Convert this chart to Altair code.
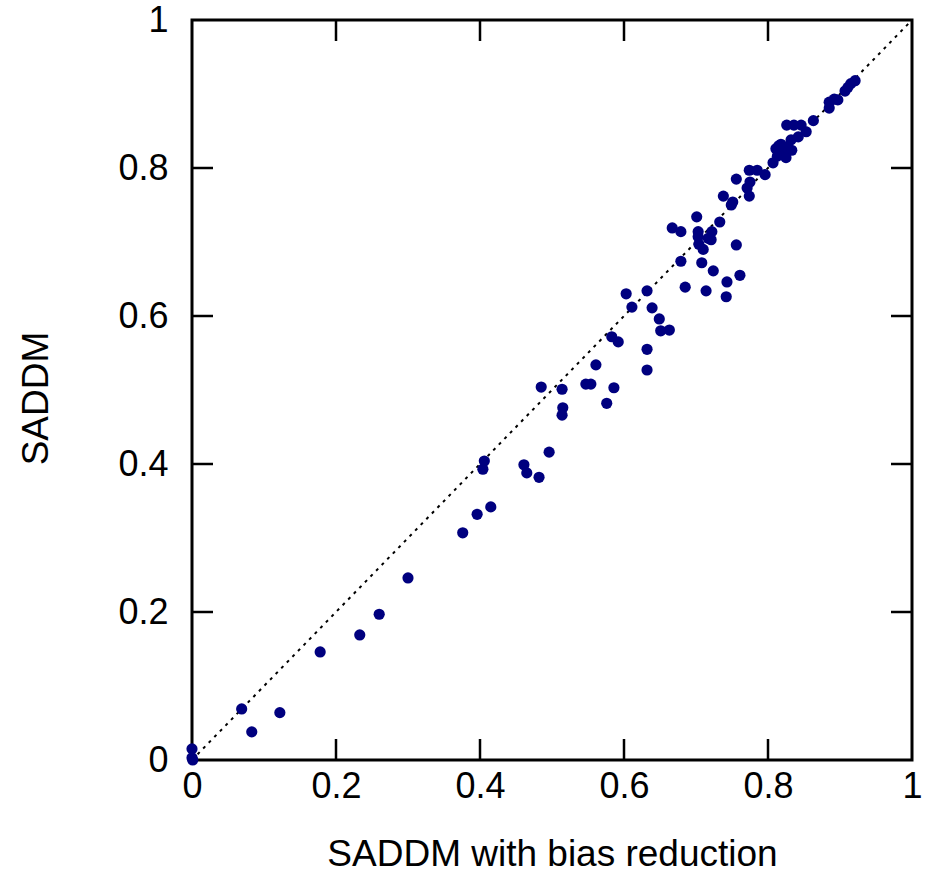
import altair as alt
import pandas as pd

# SADDM with bias reduction (x) vs SADDM (y)
x_vals = [0.000, 0.000, 0.001, 0.069, 0.083, 0.122, 0.178, 0.233, 0.260, 0.300,
          0.376, 0.396, 0.415, 0.404, 0.406, 0.461, 0.465, 0.482, 0.496, 0.485,
          0.514, 0.547, 0.554, 0.586, 0.576, 0.515, 0.514, 0.561, 0.583, 0.592,
          0.632, 0.632, 0.603, 0.632, 0.611, 0.639, 0.649, 0.651, 0.663, 0.679,
          0.708, 0.724, 0.761, 0.743, 0.685, 0.714, 0.742, 0.701, 0.733, 0.667,
          0.679, 0.703, 0.722, 0.717, 0.703, 0.721, 0.704, 0.710, 0.756, 0.738,
          0.751, 0.749, 0.756, 0.775, 0.771, 0.774, 0.774, 0.785, 0.796, 0.807,
          0.811, 0.818, 0.822, 0.813, 0.826, 0.832, 0.842, 0.853, 0.826, 0.836,
          0.846, 0.863, 0.885, 0.885, 0.892, 0.897, 0.907, 0.911, 0.915, 0.921,
          0.815, 0.833, 0.825]
y_vals = [0.015, 0.003, 0.000, 0.069, 0.038, 0.064, 0.146, 0.169, 0.197, 0.246,
          0.307, 0.332, 0.342, 0.393, 0.404, 0.399, 0.388, 0.382, 0.416, 0.504,
          0.501, 0.508, 0.508, 0.503, 0.482, 0.476, 0.466, 0.534, 0.572, 0.565,
          0.555, 0.527, 0.630, 0.634, 0.612, 0.611, 0.596, 0.580, 0.581, 0.674,
          0.672, 0.661, 0.655, 0.646, 0.639, 0.634, 0.626, 0.734, 0.727, 0.719,
          0.714, 0.714, 0.714, 0.705, 0.707, 0.703, 0.697, 0.690, 0.696, 0.762,
          0.754, 0.750, 0.785, 0.781, 0.773, 0.762, 0.797, 0.797, 0.791, 0.807,
          0.826, 0.832, 0.819, 0.816, 0.828, 0.838, 0.842, 0.849, 0.858, 0.858,
          0.858, 0.864, 0.889, 0.881, 0.893, 0.892, 0.904, 0.909, 0.914, 0.918,
          0.830, 0.824, 0.814]

tick_values = [0, 0.2, 0.4, 0.6, 0.8, 1]
inner_ticks = [0.2, 0.4, 0.6, 0.8]
diag = [0, 1]

pts = pd.DataFrame({"x": x_vals, "y": y_vals})
ticks = pd.DataFrame({"t": inner_ticks})
diag_df = pd.DataFrame({"x": diag, "y": diag})

FONT = "Liberation Sans"
W, H = 720, 740
TL = 21

xscale = alt.Scale(domain=[0, 1], nice=False, zero=False)
yscale = alt.Scale(domain=[0, 1], nice=False, zero=False)

xaxis = alt.Axis(values=tick_values, format="~g", grid=False, ticks=False, domain=False,
                 labelFontSize=36, labelFont=FONT, labelColor="black", labelPadding=9,
                 labelFlush=False,
                 title="SADDM with bias reduction", titleFontSize=37, titleFont=FONT,
                 titleFontWeight="normal", titleColor="black",
                 titleX=W / 2, titleY=105, titleBaseline="alphabetic", titleAlign="center")
yaxis = alt.Axis(values=tick_values, format="~g", grid=False, ticks=False, domain=False,
                 labelFontSize=36, labelFont=FONT, labelColor="black", labelPadding=24,
                 labelFlush=False, labelBaseline="middle",
                 title="SADDM", titleFontSize=37, titleFont=FONT,
                 titleFontWeight="normal", titleColor="black",
                 titleX=-156, titleY=378, titleBaseline="middle", titleAlign="center",
                 titleAngle=270)

line = alt.Chart(diag_df).mark_line(color="black", strokeWidth=2, strokeDash=[3, 5]).encode(
    x=alt.X("x:Q", scale=xscale, axis=xaxis),
    y=alt.Y("y:Q", scale=yscale, axis=yaxis),
)

tick_style = dict(color="black", strokeWidth=2.5)
bottom = alt.Chart(ticks).mark_rule(**tick_style).encode(
    x=alt.X("t:Q", scale=xscale), y=alt.value(H), y2=alt.value(H - TL))
top = alt.Chart(ticks).mark_rule(**tick_style).encode(
    x=alt.X("t:Q", scale=xscale), y=alt.value(0), y2=alt.value(TL))
left = alt.Chart(ticks).mark_rule(**tick_style).encode(
    y=alt.Y("t:Q", scale=yscale), x=alt.value(0), x2=alt.value(TL))
right = alt.Chart(ticks).mark_rule(**tick_style).encode(
    y=alt.Y("t:Q", scale=yscale), x=alt.value(W), x2=alt.value(W - TL))

points = alt.Chart(pts).mark_circle(size=125, color="#00007f", opacity=1).encode(
    x=alt.X("x:Q", scale=xscale),
    y=alt.Y("y:Q", scale=yscale),
)

chart = alt.layer(line, bottom, top, left, right, points).properties(
    width=W, height=H,
    autosize=alt.AutoSizeParams(type="none"),
    padding={"left": 192, "top": 20, "right": 18, "bottom": 114},
    background="white",
).configure_view(stroke="black", strokeWidth=3)

chart.save("out.html", embed_options={"renderer": "svg", "actions": False})
